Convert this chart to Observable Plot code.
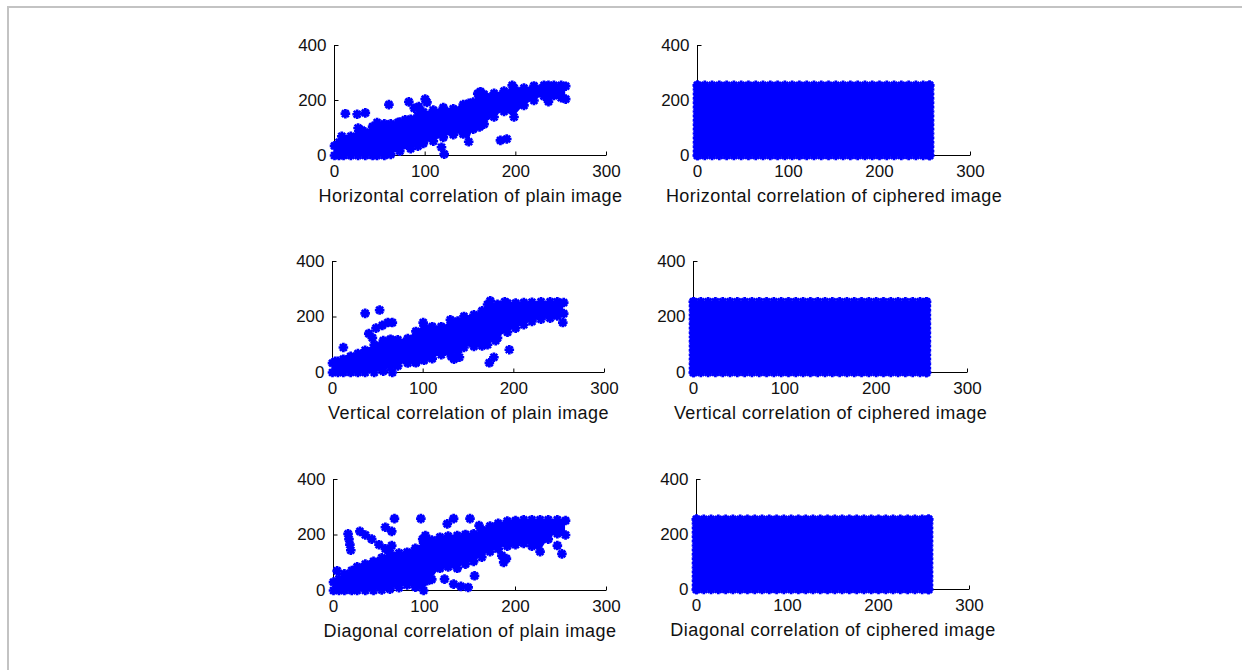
<!DOCTYPE html>
<html><head><meta charset="utf-8">
<script src="https://cdn.jsdelivr.net/npm/d3@7"></script>
<script src="https://cdn.jsdelivr.net/npm/@observablehq/plot@0.6"></script>
<style>
html,body{margin:0;padding:0;background:#fff;width:1242px;height:670px;overflow:hidden;position:relative;}
#frame{position:absolute;left:7px;top:6px;right:-10px;bottom:-10px;border-top:2px solid #c3c3c3;border-left:2px solid #c3c3c3;}
.panel{position:absolute;}
.panel svg{overflow:visible;}
</style></head><body>
<div id="frame"></div>
<div id="root"></div>
<script>
// ---- tick labels ----
const xTicks = [0, 100, 200, 300];
const yTicks = [0, 200, 400];

// ---- panel titles ----
const titles = [
  "Horizontal correlation of plain image",
  "Horizontal correlation of ciphered image",
  "Vertical correlation of plain image",
  "Vertical correlation of ciphered image",
  "Diagonal correlation of plain image",
  "Diagonal correlation of ciphered image"
];

// ---- Horizontal, plain image: dense band (lower/upper edge of the point cloud) ----
const hBandX  = [0, 5, 10, 18, 26, 34, 42, 47, 55, 62, 72, 84, 92, 98, 109, 120, 131, 142, 148, 153, 160, 165, 176, 187, 198, 209, 220, 231, 236, 242, 250, 255];
const hBandLo = [0, 0, 0, 0, 0, 0, 0, 0, 0, 4, 16, 25, 34, 44, 52, 66, 76, 78, 50, 96, 104, 114, 140, 160, 140, 182, 200, 216, 196, 218, 210, 205];
const hBandHi = [35, 48, 62, 70, 78, 85, 105, 120, 115, 115, 122, 132, 145, 158, 165, 174, 170, 185, 190, 194, 208, 222, 226, 234, 246, 245, 253, 255, 255, 255, 255, 252];
// isolated points
const hOutX = [8, 12, 25, 34, 26, 30, 60, 82, 88, 93, 100, 102, 118, 121, 158, 161, 183, 190, 196, 70, 78];
const hOutY = [70, 152, 150, 155, 100, 92, 185, 195, 172, 178, 205, 193, 30, 5, 225, 232, 55, 60, 255, 120, 130];

// ---- Vertical, plain image ----
const vBandX  = [0, 6, 12, 20, 28, 36, 46, 56, 64, 72, 83, 92, 101, 110, 120, 131, 138, 145, 156, 165, 171, 182, 193, 202, 211, 220, 230, 240, 248, 255];
const vBandLo = [0, 0, 0, 0, 0, 0, 0, 5, 18, 24, 34, 38, 44, 50, 64, 58, 75, 90, 94, 96, 100, 125, 145, 160, 172, 184, 192, 196, 204, 212];
const vBandHi = [34, 40, 48, 58, 68, 80, 100, 115, 120, 118, 122, 148, 168, 165, 165, 180, 185, 202, 208, 222, 245, 246, 250, 250, 252, 253, 255, 255, 255, 252];
const vOutX = [3, 12, 36, 52, 48, 55, 61, 66, 44, 40, 66, 92, 134, 130, 140, 173, 178, 180, 195, 174, 254, 190, 100];
const vOutY = [40, 90, 213, 225, 160, 170, 180, 180, 125, 140, 0, 35, 48, 190, 55, 35, 55, 115, 82, 258, 180, 255, 180];

// ---- Diagonal, plain image ----
const dBandX  = [0, 6, 12, 20, 26, 35, 44, 53, 62, 72, 81, 90, 99, 108, 117, 126, 136, 145, 154, 163, 172, 181, 191, 200, 209, 218, 227, 236, 246, 255];
const dBandLo = [0, 0, 0, 0, 0, 0, 0, 2, 5, 10, 20, 12, 0, 40, 80, 85, 80, 95, 105, 120, 140, 150, 160, 165, 170, 160, 140, 185, 205, 200];
const dBandHi = [30, 42, 60, 72, 85, 95, 105, 118, 136, 135, 138, 152, 172, 182, 192, 196, 198, 202, 204, 218, 232, 242, 250, 252, 255, 255, 255, 255, 255, 252];
const dOutX = [4, 16, 17, 18, 19, 29, 35, 42, 50, 57, 62, 57, 64, 67, 64, 96, 101, 98, 125, 132, 150, 160, 155, 148, 140, 132, 122, 103, 95, 187, 185, 190, 246, 251, 110];
const dOutY = [71, 204, 185, 165, 145, 213, 200, 185, 165, 150, 135, 228, 213, 259, 162, 259, 198, 185, 240, 259, 259, 234, 53, 11, 15, 23, 41, 35, 20, 101, 126, 115, 162, 132, 120];

// ---- Ciphered images: pixel pairs cover every grey level 0..255 on both axes ----
const cipherLevelsX = [0, 8, 16, 24, 32, 40, 48, 56, 64, 72, 80, 88, 96, 104, 112, 120, 128, 136, 144, 152, 160, 168, 176, 184, 192, 200, 208, 216, 224, 232, 240, 248, 255];
const cipherLevelsY = [0, 16, 32, 48, 64, 80, 96, 112, 128, 144, 160, 176, 192, 208, 224, 240, 255];

// ---------------------------------------------------------------
const blue = "#0000ff";
const ink = "#111";
const font = "'Liberation Sans', Arial, sans-serif";

// MATLAB-like '*' marker (8 spokes)
const star = {draw(ctx, size) {
  const r = Math.sqrt(size / Math.PI), d = r * Math.SQRT1_2;
  ctx.moveTo(-r, 0); ctx.lineTo(r, 0);
  ctx.moveTo(0, -r); ctx.lineTo(0, r);
  ctx.moveTo(-d, -d); ctx.lineTo(d, d);
  ctx.moveTo(-d, d); ctx.lineTo(d, -d);
}};
const tickUp = {draw(ctx) { ctx.moveTo(0, 0); ctx.lineTo(0, -4); }};
const tickRight = {draw(ctx) { ctx.moveTo(0, 0); ctx.lineTo(4, 0); }};

const dotOpts = {symbol: star, r: 4.8, stroke: blue, strokeWidth: 2.7, fill: "none"};

function bandTable(xs, lo, hi) { return xs.map((x, i) => ({x, lo: lo[i], hi: hi[i]})); }
function pts(xs, ys) { return xs.map((x, i) => ({x, y: ys[i]})); }

function plainMarks(band, out) {
  return [
    Plot.areaY(band, {x: "x", y1: "lo", y2: "hi", fill: blue, curve: "linear"}),
    Plot.dot(band, {x: "x", y: "lo", ...dotOpts}),
    Plot.dot(band, {x: "x", y: "hi", ...dotOpts}),
    Plot.dot(out, {x: "x", y: "y", ...dotOpts})
  ];
}
function cipherMarks() {
  const x0 = d3.min(cipherLevelsX), x1 = d3.max(cipherLevelsX);
  const y0 = d3.min(cipherLevelsY), y1 = d3.max(cipherLevelsY);
  const edge = [
    ...cipherLevelsX.map(x => ({x, y: y0})),
    ...cipherLevelsX.map(x => ({x, y: y1})),
    ...cipherLevelsY.map(y => ({x: x0, y})),
    ...cipherLevelsY.map(y => ({x: x1, y}))
  ];
  return [
    Plot.rect([{x1: x0, x2: x1, y1: y0, y2: y1}], {x1: "x1", x2: "x2", y1: "y1", y2: "y2", fill: blue}),
    Plot.dot(edge, {x: "x", y: "y", ...dotOpts})
  ];
}

const panels = [
  {x0: 334, x1: 606, yt: 45,  yb: 155, data: () => plainMarks(bandTable(hBandX, hBandLo, hBandHi), pts(hOutX, hOutY))},
  {x0: 697, x1: 970, yt: 45,  yb: 155, data: cipherMarks},
  {x0: 332, x1: 604, yt: 261, yb: 372, data: () => plainMarks(bandTable(vBandX, vBandLo, vBandHi), pts(vOutX, vOutY))},
  {x0: 693, x1: 967, yt: 261, yb: 372, data: cipherMarks},
  {x0: 333, x1: 606, yt: 479, yb: 590, data: () => plainMarks(bandTable(dBandX, dBandLo, dBandHi), pts(dOutX, dOutY))},
  {x0: 696, x1: 969, yt: 479, yb: 589, data: cipherMarks}
];

const mL = 50, mR = 30, mT = 14, mB = 62;
const root = document.getElementById("root");
panels.forEach((p, i) => {
  const W = p.x1 - p.x0, H = p.yb - p.yt;
  const chart = Plot.plot({
    width: mL + W + mR, height: mT + H + mB,
    marginLeft: mL, marginRight: mR, marginTop: mT, marginBottom: mB,
    x: {domain: [0, 300], axis: null},
    y: {domain: [0, 400], axis: null},
    style: {fontSize: "17px", fontFamily: font, color: ink, background: "transparent", overflow: "visible"},
    marks: [
      Plot.text(yTicks, {y: d => d, frameAnchor: "left", dx: -8, textAnchor: "end", lineAnchor: "middle", text: d => String(d), fill: ink}),
      Plot.text(xTicks, {x: d => d, frameAnchor: "bottom", dy: 16, lineAnchor: "middle", text: d => String(d), fill: ink}),
      Plot.text([titles[i]], {frameAnchor: "bottom", dy: 41, lineAnchor: "middle", text: d => d, fill: ink, fontSize: 18}),
      Plot.ruleY([0], {stroke: "#000"}),
      Plot.ruleX([0], {stroke: "#000"}),
      Plot.dot(xTicks, {x: d => d, y: 0, symbol: tickUp, stroke: "#000", fill: "none", strokeWidth: 1}),
      Plot.dot(yTicks, {x: 0, y: d => d, symbol: tickRight, stroke: "#000", fill: "none", strokeWidth: 1}),
      ...p.data()
    ]
  });
  chart.querySelectorAll("text").forEach(t => {
    if (t.textContent === titles[i]) t.style.letterSpacing = "0.45px";
  });
  const div = document.createElement("div");
  div.className = "panel";
  div.style.left = (p.x0 - mL) + "px";
  div.style.top = (p.yt - mT) + "px";
  div.appendChild(chart);
  root.appendChild(div);
});
</script>
</body></html>
